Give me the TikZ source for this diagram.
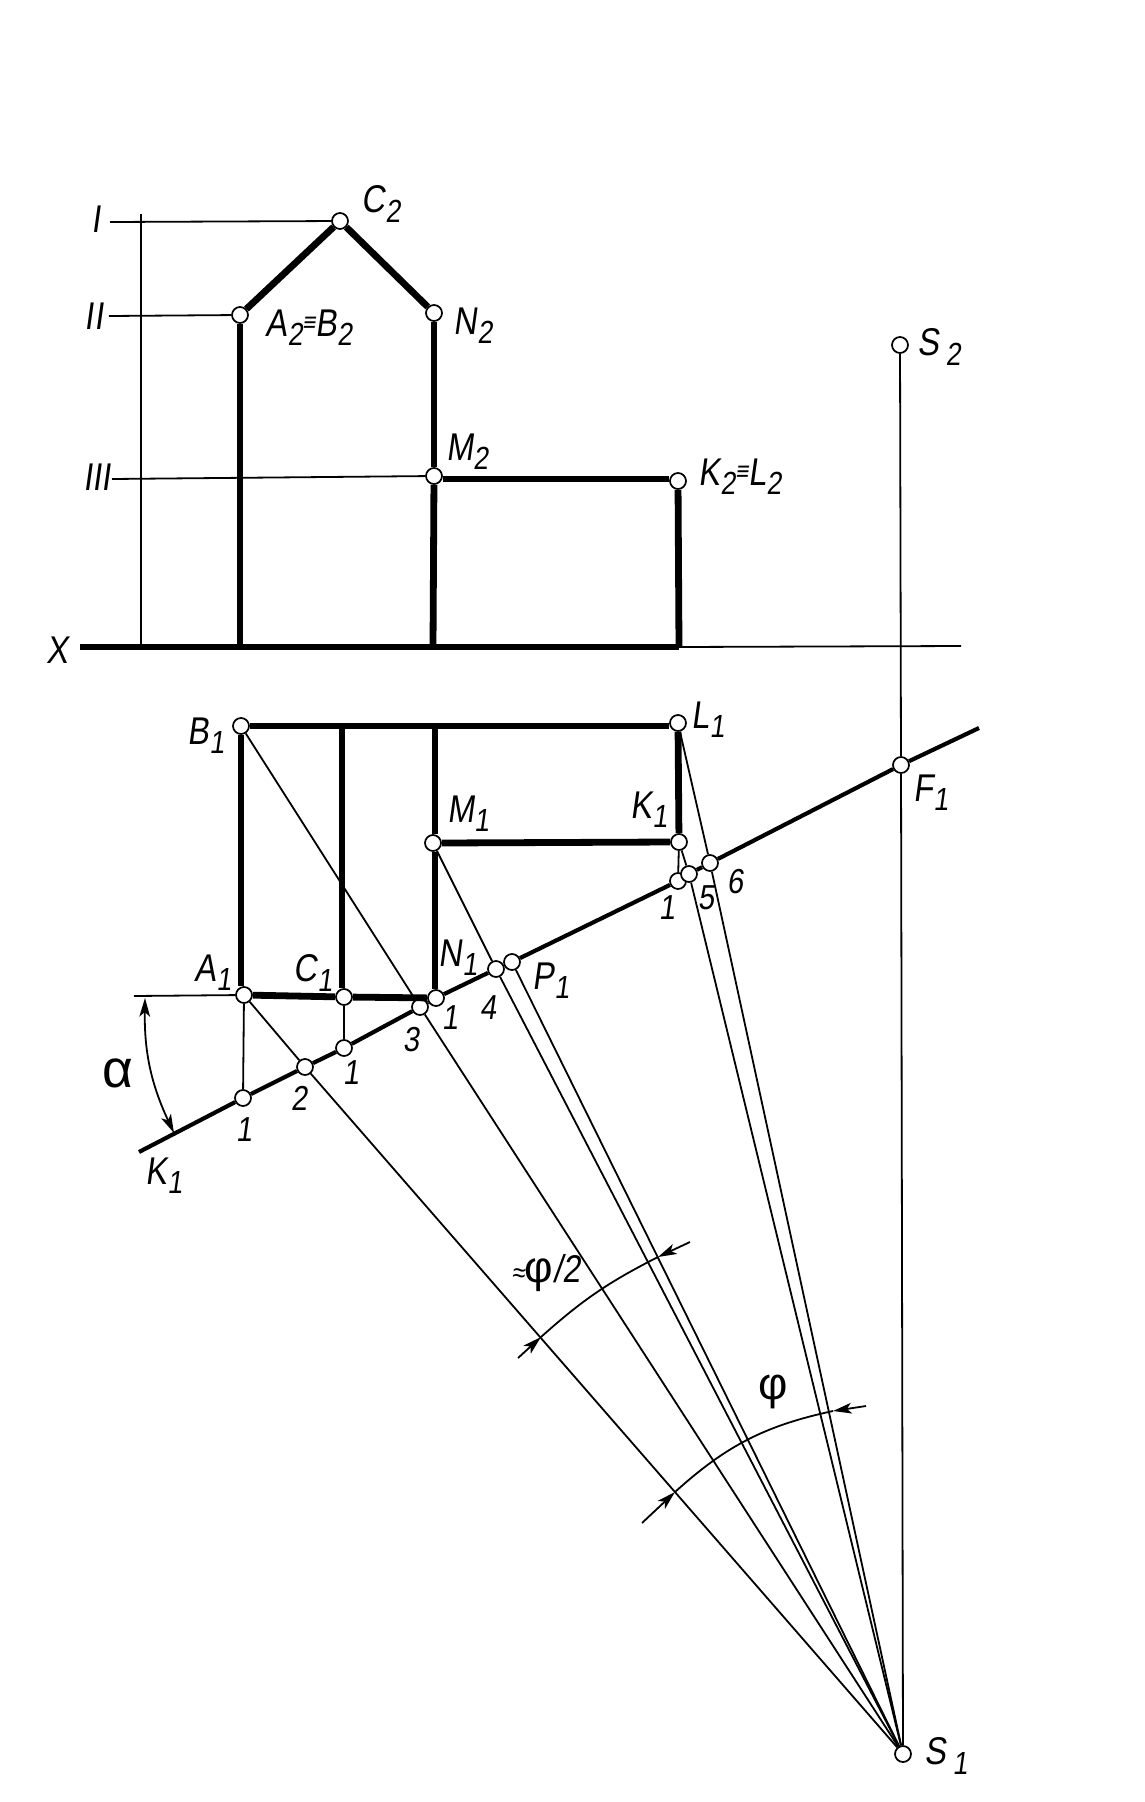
\documentclass[tikz,border=0pt]{standalone}
\usepackage{fontspec}
\setmainfont[FakeStretch=0.84,FakeSlant=0.14]{Liberation Sans}
\newfontfamily\greekfont{Liberation Sans}
\usepackage{tikz}
\usetikzlibrary{arrows.meta}
\newcommand{\sub}[2]{#1\raisebox{-7pt}{\fontsize{24}{24}\selectfont #2}}
\newcommand{\same}{\raisebox{4pt}{\fontsize{20}{20}\selectfont≡}}
\tikzset{
  pointmark/.style={circle,draw,fill=white,line width=1.3pt,minimum size=12pt,inner sep=0pt},
  mainline/.style={line width=5.1pt},
  traceline/.style={line width=3.1pt},
  thinline/.style={line width=1.35pt},
  dimarrow/.style={line width=1.35pt,-{Stealth[length=14pt,width=8pt,inset=3.5pt]}},
  dimboth/.style={line width=1.35pt,{Stealth[length=14pt,width=8pt,inset=3.5pt]}-{Stealth[length=14pt,width=8pt,inset=3.5pt]}},
  tag/.style={font=\fontsize{29}{29}\selectfont,inner sep=0pt},
  figtag/.style={font=\fontsize{26}{26}\selectfont,inner sep=0pt},
  romantag/.style={font=\fontsize{29}{29}\selectfont,inner sep=0pt}
}
\begin{document}
\begin{tikzpicture}[x=0.75pt,y=-0.75pt]
  \useasboundingbox (0,0) rectangle (1145,1802);
  % frontal view
  \node (C2) [pointmark] at (340,221) {};
  \node (A2) [pointmark] at (240,315) {};
  \node (N2) [pointmark] at (434,313) {};
  \node (M2) [pointmark] at (434,476) {};
  \node (K2) [pointmark] at (678,481) {};
  \node (S2) [pointmark] at (900,345) {};
  % top view
  \node (B1) [pointmark] at (241,726) {};
  \node (L1) [pointmark] at (678,723) {};
  \node (M1) [pointmark] at (433,843) {};
  \node (K1) [pointmark] at (679,842) {};
  \node (A1) [pointmark] at (244,995) {};
  \node (C1) [pointmark] at (344,997) {};
  \node (N1) [pointmark] at (436,998) {};
  \node (ptA) [pointmark] at (243,1098) {};
  \node (pt2) [pointmark] at (305,1067) {};
  \node (ptC) [pointmark] at (344,1048) {};
  \node (pt3) [pointmark] at (420,1007) {};
  \node (pt4) [pointmark] at (496,969) {};
  \node (P1) [pointmark] at (512,962) {};
  \node (ptK) [pointmark] at (678,881) {};
  \node (pt5) [pointmark] at (689,874) {};
  \node (pt6) [pointmark] at (710,863) {};
  \node (F1) [pointmark] at (901,765) {};
  \node (S1) [pointmark] at (903,1754) {};
  % free ends
  \coordinate (xStart) at (80,647);
  \coordinate (xA) at (240,647);
  \coordinate (xN) at (433,647);
  \coordinate (xK) at (679,647);
  \coordinate (xEnd) at (961,646);
  \coordinate (riseTop) at (141,214);
  \coordinate (riseBot) at (141,647);
  \coordinate (lvlI) at (110,222);
  \coordinate (lvlII) at (109,316);
  \coordinate (lvlIII) at (112,479);
  \coordinate (topC) at (342,726);
  \coordinate (topN) at (435,726);
  \coordinate (traceStart) at (139,1152);
  \coordinate (traceEnd) at (979,728);
  \coordinate (alphaLine) at (134,996);
  \coordinate (alphaTop) at (145,998);
  \coordinate (alphaBot) at (174,1133);
  \coordinate (halfL) at (541,1337);
  \coordinate (halfR) at (658,1257);
  \coordinate (halfTailL) at (518,1358);
  \coordinate (halfTailR) at (690,1242);
  \coordinate (phiL) at (675,1492);
  \coordinate (phiR) at (833,1411);
  \coordinate (phiTailL) at (642,1523);
  \coordinate (phiTailR) at (866,1406);
  % thin lines
  \draw[thinline] (riseTop) -- (riseBot);
  \draw[thinline] (lvlI) -- (C2);
  \draw[thinline] (lvlII) -- (A2);
  \draw[thinline] (lvlIII) -- (M2);
  \draw[thinline] (xK) -- (xEnd);
  \draw[thinline] (S2) -- (F1) -- (S1);
  \draw[thinline] (alphaLine) -- (A1);
  \draw[thinline] (A1) -- (ptA);
  \draw[thinline] (C1) -- (ptC);
  \draw[thinline] (K1) -- (ptK);
  \draw[thinline] (A1) -- (pt2);
  \draw[thinline] (B1) -- (pt3);
  \draw[thinline] (M1) -- (pt4);
  \draw[thinline] (K1) -- (pt5);
  \draw[thinline] (L1) -- (pt6);
  \draw[thinline] (pt2) -- (S1);
  \draw[thinline] (pt3) -- (S1);
  \draw[thinline] (pt4) -- (S1);
  \draw[thinline] (P1) -- (S1);
  \draw[thinline] (pt5) -- (S1);
  \draw[thinline] (pt6) -- (S1);
  % object lines
  \draw[mainline] (xStart) -- (xK);
  \draw[mainline] (A2) -- (xA);
  \draw[mainline] (A2) -- (C2);
  \draw[mainline] (C2) -- (N2);
  \draw[mainline] (N2) -- (M2);
  \draw[mainline] (M2) -- (xN);
  \draw[mainline] (M2.east |- lvlIII) -- (K2.west |- lvlIII);
  \draw[mainline] (K2) -- (xK);
  \draw[mainline] (B1.east) -- (L1.west |- B1);
  \draw[mainline] (B1) -- (B1 |- A1.north);
  \draw[mainline] (L1) -- (K1);
  \draw[mainline] (topC) -- (topC |- C1.north);
  \draw[mainline] (topN) -- (topN |- M1.north);
  \draw[mainline] (topN |- M1.south) -- (topN |- N1.north);
  \draw[mainline] (M1.east) -- (K1.west);
  \draw[mainline] (A1) -- (C1);
  \draw[mainline] (C1) -- (N1);
  % trace of the plane
  \draw[traceline] (traceStart) -- (ptA);
  \draw[traceline] (ptA) -- (pt2);
  \draw[traceline] (pt2) -- (ptC);
  \draw[traceline] (ptC) -- (pt3);
  \draw[traceline] (pt3) -- (N1);
  \draw[traceline] (N1) -- (pt4);
  \draw[traceline] (P1) -- (ptK);
  \draw[traceline] (pt6) -- (F1);
  \draw[traceline] (pt5) -- (pt6);
  \draw[traceline] (F1) -- (traceEnd);
  % angles
  \draw[dimboth] (alphaTop) to[bend right=13] (alphaBot);
  \draw[thinline] (halfL) to[bend left=7.5] (halfR);
  \draw[dimarrow] (halfTailL) -- (halfL);
  \draw[dimarrow] (halfTailR) -- (halfR);
  \draw[thinline] (phiL) to[bend left=15] (phiR);
  \draw[dimarrow] (phiTailL) -- (phiL);
  \draw[dimarrow] (phiTailR) -- (phiR);
  % labels
  \node (tagI) [romantag] at (96,219) {I};
  \node (tagII) [romantag] at (94,316) {II};
  \node (tagIII) [romantag] at (97,477) {III};
  \node (tagX) [tag] at (57,650) {X};
  \node (tagC2) [tag] at (381,204) {\sub{C}{2}};
  \node (tagA2) [tag] at (309,328) {\sub{A}{2}\same\sub{B}{2}};
  \node (tagN2) [tag] at (473,326) {\sub{N}{2}};
  \node (tagM2) [tag] at (467,452) {\sub{M}{2}};
  \node (tagK2) [tag] at (740,477) {\sub{K}{2}\same\sub{L}{2}};
  \node (tagS2) [tag] at (939,347) {\sub{S\,}{2}};
  \node (tagB1) [tag] at (206,736) {\sub{B}{1}};
  \node (tagL1) [tag] at (708,720) {\sub{L}{1}};
  \node (tagM1) [tag] at (468,814) {\sub{M}{1}};
  \node (tagK1) [tag] at (649,810) {\sub{K}{1}};
  \node (tagA1) [tag] at (213,973) {\sub{A}{1}};
  \node (tagC1) [tag] at (313,973) {\sub{C}{1}};
  \node (tagN1) [tag] at (458,958) {\sub{N}{1}};
  \node (tagP1) [tag] at (551,981) {\sub{P}{1}};
  \node (tagF1) [tag] at (931,793) {\sub{F}{1}};
  \node (tagS1) [tag] at (946,1756) {\sub{S\,}{1}};
  \node (tagK0) [tag] at (164,1176) {\sub{K}{1}};
  \node (numA) [figtag] at (244,1130) {1};
  \node (num2) [figtag] at (299,1098) {2};
  \node (numC) [figtag] at (351,1073) {1};
  \node (num3) [figtag] at (411,1040) {3};
  \node (numN) [figtag] at (450,1018) {1};
  \node (num4) [figtag] at (488,1008) {4};
  \node (numK) [figtag] at (667,908) {1};
  \node (num5) [figtag] at (706,898) {5};
  \node (num6) [figtag] at (735,882) {6};
  \node (tagAlpha) [font=\fontsize{40}{40}\greekfont,inner sep=0pt] at (118,1073) {α};
  \node (tagHalf) [font=\fontsize{29}{29}\selectfont,inner sep=0pt] at (546,1273) {{\fontsize{21}{21}\selectfont≈}{\fontsize{33}{33}\greekfont φ}/2};
  \node (tagPhi) [font=\fontsize{34}{34}\greekfont,inner sep=0pt] at (773,1392) {φ};
\end{tikzpicture}
\end{document}
